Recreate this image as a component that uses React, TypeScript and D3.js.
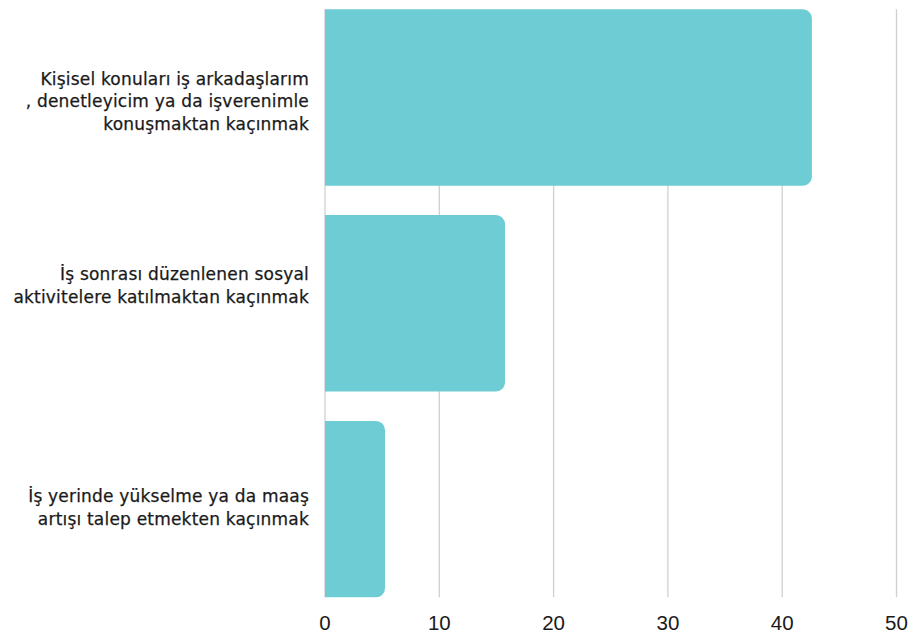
import React from "react";
import * as d3 from "d3";

const categories: string[][] = [
  ["Kişisel konuları iş arkadaşlarım", ", denetleyicim ya da işverenimle", "konuşmaktan kaçınmak"],
  ["İş sonrası düzenlenen sosyal", "aktivitelere katılmaktan kaçınmak"],
  ["İş yerinde yükselme ya da maaş", "artışı talep etmekten kaçınmak"],
];
const values: number[] = [42.6, 15.75, 5.25];
const ticks: number[] = [0, 10, 20, 30, 40, 50];

const W = 910;
const H = 637;
const left = 325;
const right = 896.5;
const top = 9.3;
const bottom = 597.3;
const labelShift = [10 - 22.5, -23, -7]; // first-line baseline offset from band center
const lineH = 22.5;

export default function App() {
  const x = d3.scaleLinear().domain([0, 50]).range([left, right]);
  const y = d3
    .scaleBand<number>()
    .domain(d3.range(values.length))
    .range([top, bottom])
    .paddingInner(0.143)
    .paddingOuter(0);
  const bw = y.bandwidth();
  const r = 9;

  const barPath = (v: number, i: number) => {
    const x0 = x(0);
    const x1 = x(v);
    const y0 = y(i)!;
    const y1 = y0 + bw;
    const rr = Math.min(r, (x1 - x0) / 2);
    const p = d3.path();
    p.moveTo(x0, y0);
    p.lineTo(x1 - rr, y0);
    p.arcTo(x1, y0, x1, y0 + rr, rr);
    p.lineTo(x1, y1 - rr);
    p.arcTo(x1, y1, x1 - rr, y1, rr);
    p.lineTo(x0, y1);
    p.closePath();
    return p.toString();
  };

  return (
    <div style={{ position: "absolute", left: 0, top: 0 }}>
      <svg width={W} height={H} style={{ display: "block", background: "#fff" }}>
        {ticks.map((t) => (
          <line
            key={"g" + t}
            x1={x(t)}
            x2={x(t)}
            y1={top}
            y2={bottom}
            stroke="#d0d0d0"
            strokeWidth={1.3}
          />
        ))}
        {values.map((v, i) => (
          <path key={"b" + i} d={barPath(v, i)} fill="#6ecdd4" />
        ))}
        {ticks.map((t) => (
          <text
            key={"t" + t}
            x={x(t)}
            y={630}
            textAnchor="middle"
            fontFamily="'Liberation Sans', Arial, sans-serif"
            fontSize={20.5}
            fill="#1a1a1a"
          >
            {t}
          </text>
        ))}
        {categories.map((lines, i) => {
          const cy = y(i)! + bw / 2;
          return (
            <text
              key={"c" + i}
              textAnchor="end"
              fontFamily="'DejaVu Sans', sans-serif"
              fontSize={17}
              letterSpacing={0.2}
              fill="#1a1a1a"
              stroke="#1a1a1a"
              strokeWidth={0.25}
            >
              {lines.map((ln, j) => (
                <tspan key={j} x={309} y={cy + labelShift[i] + j * lineH}>
                  {ln}
                </tspan>
              ))}
            </text>
          );
        })}
      </svg>
    </div>
  );
}
